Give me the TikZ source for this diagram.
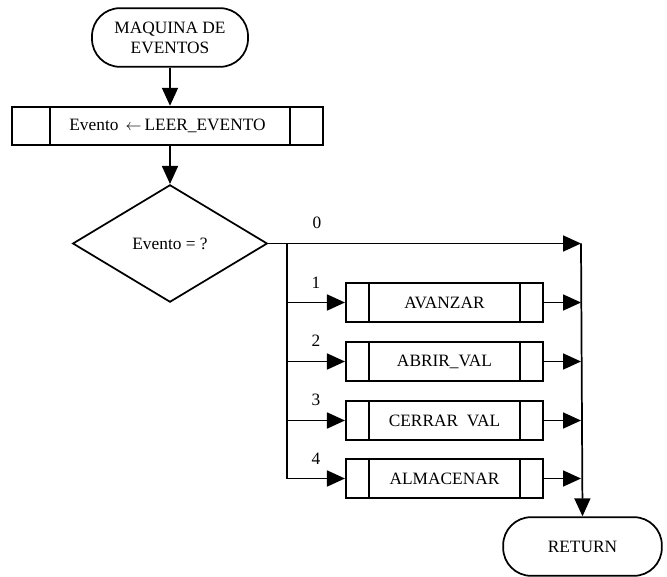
\documentclass[tikz,border=0pt]{standalone}
\usepackage{fontspec}
\setmainfont{Liberation Serif}
\usetikzlibrary{shapes.geometric,arrows.meta}
\begin{document}
\begin{tikzpicture}[x=0.75pt,y=-0.75pt,
  line width=1.3pt,
  every node/.style={font=\fontsize{13}{15}\selectfont},
  term/.style={draw,rounded corners=21pt,minimum width=117pt,minimum height=44pt,align=center,inner sep=2pt},
  sub/.style={draw,minimum height=29pt,inner sep=2pt},
  deci/.style={draw,diamond,inner sep=0pt,minimum width=146pt,minimum height=88pt},
  arr/.style={-{Triangle[length=13.5pt,width=12pt]}},
  lbl/.style={inner sep=0pt}]
\useasboundingbox (0,0) rectangle (667,577);
\node[term] (top) at (170,37.5) {MAQUINA DE\\EVENTOS};
\node[sub,minimum width=233pt] (leer) at (167.5,126) {Evento \,$\leftarrow$\,LEER\_EVENTO};
\draw ([xshift=29pt]leer.north west) -- ([xshift=29pt]leer.south west);
\draw ([xshift=-25.5pt]leer.north east) -- ([xshift=-25.5pt]leer.south east);
\node[deci] (dia) at (170,243.5) {Evento = ?};
\node[term,minimum width=119pt] (ret) at (582.5,546.5) {RETURN};

\foreach \n/\y/\t in {b1/302.5/AVANZAR, b2/361.5/ABRIR\_VAL, b3/420.5/CERRAR\enspace VAL, b4/478.5/ALMACENAR}{
  \node[sub,minimum width=148pt] (\n) at (444.5,\y) {\t};
  \draw ([xshift=18pt]\n.north west) -- ([xshift=18pt]\n.south west);
  \draw ([xshift=-18pt]\n.north east) -- ([xshift=-18pt]\n.south east);
}

\coordinate (j0) at (287,243.5);
\coordinate (r0) at (581,243.5);
\foreach \i/\y in {1/302.5,2/361.5,3/420.5,4/478.5}{
  \coordinate (j\i) at (287,\y);
  \coordinate (r\i) at (581,\y);
}

\draw[arr] (top.south) -- (top.south |- leer.north);
\draw[arr] (top.south |- leer.south) -- (dia.north);
\draw[arr] (dia.east) -- (r0);
\draw (j0) -- (j4);
\foreach \i in {1,2,3,4}{
  \draw[arr] (j\i) -- (b\i.west);
  \draw[arr] (b\i.east) -- (r\i);
}
\draw[arr] (r0) -- (ret.north);

\node[lbl] (l0) at (317,223) {0};
\node[lbl] (l1) at (316,283) {1};
\node[lbl] (l2) at (316,341) {2};
\node[lbl] (l3) at (316,400) {3};
\node[lbl] (l4) at (316,459) {4};
\end{tikzpicture}
\end{document}
